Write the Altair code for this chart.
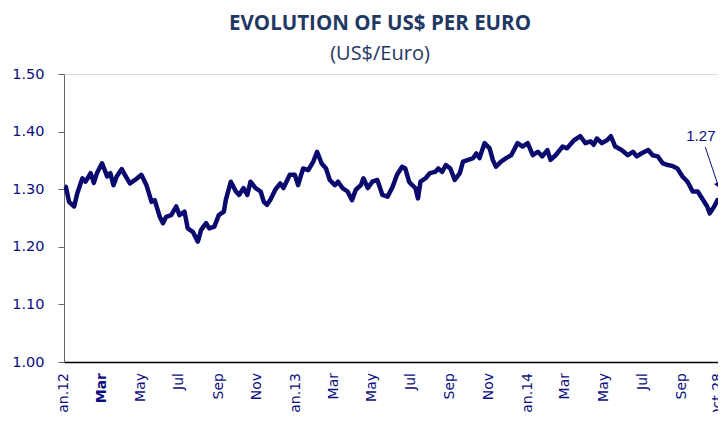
import altair as alt
import pandas as pd

# ---- data (US$ per Euro) ----
dates = [
    "2012-01-02", "2012-01-04", "2012-01-09", "2012-01-17", "2012-01-22", "2012-01-30",
    "2012-02-04", "2012-02-12", "2012-02-17", "2012-02-22", "2012-03-01", "2012-03-09",
    "2012-03-14", "2012-03-19", "2012-03-24", "2012-04-01", "2012-04-06", "2012-04-14",
    "2012-04-22", "2012-05-02", "2012-05-10", "2012-05-18", "2012-05-23", "2012-05-31",
    "2012-06-05", "2012-06-10", "2012-06-18", "2012-06-26", "2012-07-01", "2012-07-09",
    "2012-07-14", "2012-07-22", "2012-07-30", "2012-08-04", "2012-08-12", "2012-08-17",
    "2012-08-25", "2012-09-01", "2012-09-09", "2012-09-12", "2012-09-20", "2012-09-28",
    "2012-10-03", "2012-10-10", "2012-10-16", "2012-10-21", "2012-10-29", "2012-11-06",
    "2012-11-11", "2012-11-16", "2012-11-21", "2012-11-29", "2012-12-07", "2012-12-12",
    "2012-12-22", "2012-12-30",
    "2013-01-04", "2013-01-12", "2013-01-20", "2013-01-28", "2013-02-03", "2013-02-10",
    "2013-02-17", "2013-02-23", "2013-03-03", "2013-03-08", "2013-03-15", "2013-03-23",
    "2013-03-30", "2013-04-05", "2013-04-13", "2013-04-17", "2013-04-24", "2013-05-01",
    "2013-05-09", "2013-05-17", "2013-05-25", "2013-06-02", "2013-06-09", "2013-06-17",
    "2013-06-22", "2013-06-28", "2013-07-03", "2013-07-08", "2013-07-12", "2013-07-16",
    "2013-07-24", "2013-07-31", "2013-08-08", "2013-08-13", "2013-08-19", "2013-08-25",
    "2013-09-01", "2013-09-08", "2013-09-16", "2013-09-21", "2013-09-29", "2013-10-07",
    "2013-10-12", "2013-10-17", "2013-10-25", "2013-11-02", "2013-11-07", "2013-11-12",
    "2013-11-20", "2013-11-28", "2013-12-06", "2013-12-16", "2013-12-24",
    "2014-01-01", "2014-01-09", "2014-01-17", "2014-01-24", "2014-02-01", "2014-02-06",
    "2014-02-14", "2014-02-25", "2014-03-04", "2014-03-15", "2014-03-25", "2014-04-02",
    "2014-04-10", "2014-04-15", "2014-04-20", "2014-04-28", "2014-05-06", "2014-05-12",
    "2014-05-19", "2014-05-29", "2014-06-08", "2014-06-16", "2014-06-22", "2014-06-29",
    "2014-07-10", "2014-07-17", "2014-07-25", "2014-08-02", "2014-08-10", "2014-08-18",
    "2014-08-25", "2014-09-02", "2014-09-10", "2014-09-18", "2014-09-26", "2014-10-03",
    "2014-10-11", "2014-10-15", "2014-10-22", "2014-10-27", "2014-10-28",
]
usd_per_euro = [
    1.305, 1.304, 1.278, 1.270, 1.293, 1.319,
    1.313, 1.328, 1.311, 1.328, 1.345, 1.322,
    1.328, 1.307, 1.322, 1.335, 1.325, 1.310,
    1.316, 1.325, 1.307, 1.278, 1.281, 1.252,
    1.241, 1.252, 1.255, 1.270, 1.255, 1.261,
    1.232, 1.226, 1.209, 1.229, 1.241, 1.232,
    1.235, 1.255, 1.261, 1.281, 1.313, 1.296,
    1.290, 1.302, 1.290, 1.313, 1.302, 1.296,
    1.278, 1.273, 1.281, 1.299, 1.310, 1.302,
    1.325, 1.325,
    1.307, 1.336, 1.333, 1.348, 1.365, 1.345,
    1.336, 1.316, 1.307, 1.313, 1.302, 1.296,
    1.281, 1.299, 1.307, 1.319, 1.302, 1.313,
    1.316, 1.290, 1.287, 1.304, 1.325, 1.339,
    1.336, 1.313, 1.307, 1.302, 1.284, 1.313,
    1.319, 1.328, 1.330, 1.336, 1.330, 1.342,
    1.336, 1.316, 1.328, 1.348, 1.351, 1.354,
    1.362, 1.354, 1.380, 1.371, 1.351, 1.339,
    1.348, 1.354, 1.359, 1.380, 1.374,
    1.380, 1.359, 1.365, 1.357, 1.368, 1.351,
    1.359, 1.374, 1.371, 1.385, 1.392, 1.380,
    1.383, 1.377, 1.388, 1.380, 1.385, 1.392,
    1.374, 1.368, 1.359, 1.365, 1.357, 1.362,
    1.368, 1.359, 1.357, 1.345, 1.342, 1.340,
    1.336, 1.322, 1.313, 1.296, 1.296, 1.284,
    1.270, 1.258, 1.270, 1.281, 1.278,
]

# annotation of the last value
annot_text = ["1.27"]
annot_date = ["2014-10-01"]
annot_value = [1.392]
arrow_from_date = ["2014-10-08"]
arrow_from_value = [1.373]
arrow_to_date = ["2014-10-28"]
arrow_to_value = [1.307]

# x-axis tick labels
tick_dates = [
    "2012-01-01", "2012-03-01", "2012-05-01", "2012-07-01", "2012-09-01", "2012-11-01",
    "2013-01-01", "2013-03-01", "2013-05-01", "2013-07-01", "2013-09-01", "2013-11-01",
    "2014-01-01", "2014-03-01", "2014-05-01", "2014-07-01", "2014-09-01", "2014-10-28",
]
tick_labels = [
    "Jan.12", "Mar", "May", "Jul", "Sep", "Nov",
    "Jan.13", "Mar", "May", "Jul", "Sep", "Nov",
    "Jan.14", "Mar", "May", "Jul", "Sep", "Oct 28",
]

NAVY_LINE = "#0A0A6E"
NAVY_TXT = "#0C0C80"
TITLE_COL = "#1F3864"
PLOT_H = 288

df = pd.DataFrame({"date": dates, "rate": usd_per_euro})
ann = pd.DataFrame({"date": annot_date, "rate": annot_value, "label": annot_text})
arr = pd.DataFrame({"d1": arrow_from_date, "v1": arrow_from_value,
                    "d2": arrow_to_date, "v2": arrow_to_value})
ticks = pd.DataFrame({"date": tick_dates, "label": tick_labels})

x_scale = alt.Scale(domain=[alt.DateTime(year=2012, month=1, date=1),
                            alt.DateTime(year=2014, month=10, date=28)])
y_scale = alt.Scale(domain=[1.0, 1.5], nice=False, zero=False)

x_axis = alt.Axis(
    labels=False,
    ticks=False,
    grid=False,
    domainColor="#000000",
    domainWidth=1.5,
    title=None,
)

y_axis = alt.Axis(
    values=[1.0, 1.1, 1.2, 1.3, 1.4, 1.5],
    format=".2f",
    labelFont="DejaVu Sans",
    labelFontSize=14.5,
    labelColor=NAVY_TXT,
    labelPadding=14,
    tickSize=6,
    tickColor="#666666",
    domainColor="#666666",
    grid=False,
    title=None,
)

line = alt.Chart(df).mark_line(color=NAVY_LINE, strokeWidth=4.5, strokeJoin="round").encode(
    x=alt.X("date:T", scale=x_scale, axis=x_axis),
    y=alt.Y("rate:Q", scale=y_scale, axis=y_axis),
)

bold_test = "datum.label == 'Mar' && year(datum.date) == 2012"
label_style = dict(font="DejaVu Sans", fontSize=14, color=NAVY_TXT, angle=270,
                   align="right", baseline="middle")

x_labels = alt.Chart(ticks).mark_text(fontWeight="normal", **label_style).encode(
    x=alt.X("date:T", scale=x_scale),
    y=alt.value(PLOT_H + 11),
    text="label:N",
).transform_filter("!(" + bold_test + ")")

x_labels_bold = alt.Chart(ticks).mark_text(fontWeight="bold", **label_style).encode(
    x=alt.X("date:T", scale=x_scale),
    y=alt.value(PLOT_H + 11),
    text="label:N",
).transform_filter(bold_test)

text = alt.Chart(ann).mark_text(font="Liberation Sans", fontSize=15, color=NAVY_TXT,
                                align="center", baseline="middle").encode(
    x=alt.X("date:T", scale=x_scale),
    y=alt.Y("rate:Q", scale=y_scale),
    text="label:N",
)

arrow_line = alt.Chart(arr).mark_rule(color=NAVY_TXT, strokeWidth=1).encode(
    x=alt.X("d1:T", scale=x_scale),
    y=alt.Y("v1:Q", scale=y_scale),
    x2="d2:T",
    y2="v2:Q",
)

arrow_head = alt.Chart(arr).mark_point(shape="triangle-down", filled=True, color=NAVY_TXT,
                                       size=40, angle=337, opacity=1).encode(
    x=alt.X("d2:T", scale=x_scale),
    y=alt.Y("v2:Q", scale=y_scale),
)

chart = alt.layer(line, x_labels, x_labels_bold, arrow_line, arrow_head, text).properties(
    width=654,
    height=PLOT_H,
    autosize=alt.AutoSizeParams(type="none"),
    padding={"left": 56, "top": 66, "right": 0, "bottom": 50},
    title=alt.TitleParams(
        text="EVOLUTION OF US$ PER EURO",
        subtitle="(US$/Euro)",
        font="Open Sans",
        fontSize=20.5,
        fontWeight="bold",
        color=TITLE_COL,
        subtitleFont="Open Sans",
        subtitleFontSize=20,
        subtitleColor=TITLE_COL,
        subtitlePadding=10,
        anchor="middle",
        dx=-11,
        offset=2,
    ),
).configure_view(stroke=None).configure(background="white")

chart.save("out.html", embed_options={"renderer": "svg", "actions": False})
